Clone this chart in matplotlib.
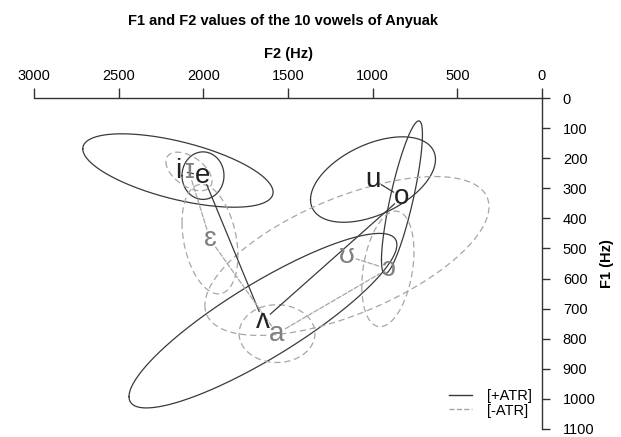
#!/usr/bin/env python3

"""F1/F2 vowel chart of Anyuak with spread ellipses per vowel."""

import numpy as np # For the ellipse outlines.
import matplotlib
matplotlib.use('Agg')
import matplotlib.pyplot as plt # For graphing.
from matplotlib.lines import Line2D

plt.rcParams['font.family'] = ['Liberation Sans', 'DejaVu Sans']

# Vowel means (Hz).
vowels = ['i', 'e', 'ʌ', 'o', 'u', 'ɪ', 'ɛ', 'a', 'ɔ', 'ʊ']
atr = ['+', '+', '+', '+', '+', '-', '-', '-', '-', '-']
f2Mean = [2150, 2002, 1648, 827, 998, 2085, 1961, 1565, 910, 1152]
f1Mean = [241, 258, 740, 330, 271, 244, 469, 783, 568, 525]

# Spread of each vowel: sd of F2, sd of F1 and their correlation.
f2Sd = [562, 124, 791, 121, 369, 136, 165, 224, 154, 839]
f1Sd = [122, 79, 290, 254, 142, 64, 182, 96, 192, 264]
corr = [-0.59, 0.0, 0.87, 0.82, 0.47, -0.5, -0.3, 0.0, 0.3, 0.62]

# Lines joining the vowels of each set.
plusPath = ['i', 'e', 'ʌ', 'o', 'u']
minusPath = ['ɪ', 'ɛ', 'a', 'ɔ', 'ʊ']

xTicks = [3000, 2500, 2000, 1500, 1000, 500, 0]
yTicks = [0, 100, 200, 300, 400, 500, 600, 700, 800, 900, 1000, 1100]

dark = '#3a3a3a'
light = '#a6a6a6'

fig = plt.figure(figsize=(6.21, 4.37), dpi=100)
ax = fig.add_axes([34/621, 1 - 429/437, (542 - 34)/621, (429 - 98)/437])

ax.set_xlim(3000, 0)
ax.set_ylim(1100, 0)

t = np.linspace(0, 2*np.pi, 300)
for k in range(len(vowels)):
    solid = atr[k] == '+'
    xs = f2Mean[k] + f2Sd[k]*np.cos(t)
    ys = f1Mean[k] + f1Sd[k]*(corr[k]*np.cos(t)
                               + np.sqrt(1 - corr[k]**2)*np.sin(t))
    ax.plot(xs, ys, color=dark if solid else light, lw=0.9,
            ls='-' if solid else (0, (5, 3)))

pos = {v: (f2Mean[k], f1Mean[k]) for k, v in enumerate(vowels)}
for path, col, style in [(plusPath, dark, '-'), (minusPath, light, '--')]:
    for a, b in zip(path[:-1], path[1:]):
        ax.annotate('', xy=pos[b], xytext=pos[a],
                    arrowprops=dict(arrowstyle='-', color=col, lw=0.9,
                                    ls=style, shrinkA=7, shrinkB=7))

for k, v in enumerate(vowels):
    ax.text(f2Mean[k], f1Mean[k], v, fontsize=20, ha='center',
            va='center', color='#222222' if atr[k] == '+' else '#808080')

# Axes sit on the top and the right, as in a vowel chart.
for side in ['left', 'bottom']:
    ax.spines[side].set_visible(False)
for side in ['top', 'right']:
    ax.spines[side].set_color('#333333')
    ax.spines[side].set_linewidth(1.0)
ax.xaxis.set_ticks_position('top')
ax.xaxis.set_label_position('top')
ax.yaxis.set_ticks_position('right')
ax.yaxis.set_label_position('right')
ax.set_xticks(xTicks)
ax.set_yticks(yTicks)
ax.tick_params(axis='x', direction='out', length=7, width=1.0,
               color='#333333', labelsize=10.5, pad=4)
ax.tick_params(axis='y', direction='out', length=6, width=1.0,
               color='#333333', labelsize=10.5, pad=9)
ax.set_xlabel('F2 (Hz)', fontsize=10.5, fontweight='bold', labelpad=8)
ax.set_ylabel('F1 (Hz)', fontsize=10.5, fontweight='bold', labelpad=3)

fig.suptitle('F1 and F2 values of the 10 vowels of Anyuak', x=0.456,
             y=0.968, fontsize=10.5, fontweight='bold')

handles = [Line2D([], [], color=dark, lw=1.0, ls='-'),
           Line2D([], [], color=light, lw=1.0, ls='--')]
ax.legend(handles, ['[+ATR]', '[-ATR]'], loc='lower right',
          bbox_to_anchor=(1.005, -0.005), frameon=False, fontsize=10.5,
          handlelength=1.6, handletextpad=1.0, labelspacing=0.05)

fig.savefig('out.png', dpi=100)
